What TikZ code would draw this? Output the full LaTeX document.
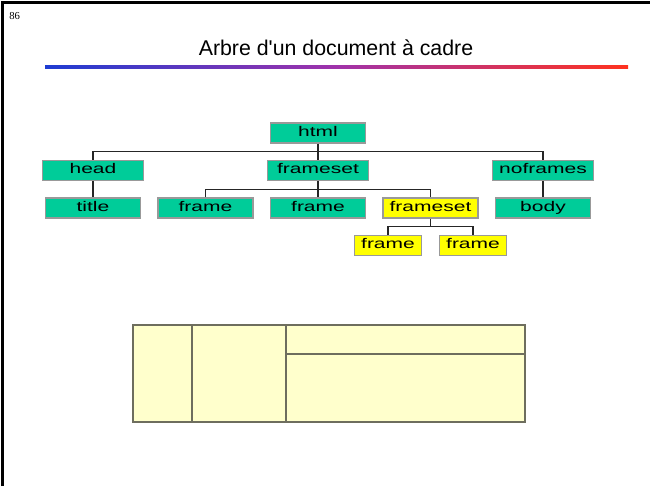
\documentclass[tikz,border=0pt]{standalone}
\usepackage{fontspec}
\setmainfont{Liberation Sans}
\newfontfamily\boxfont[FakeStretch=1.5]{Liberation Sans}
\newfontfamily\headfont[Ligatures=TeXOff]{Liberation Sans}
\newfontfamily\pagefont{Liberation Serif}
\usetikzlibrary{positioning, calc}

\definecolor{treegreen}{HTML}{00CC99}
\definecolor{frameyellow}{HTML}{FFFF00}
\definecolor{boxedge}{HTML}{999999}
\definecolor{pagecream}{HTML}{FFFFCC}
\definecolor{celledge}{HTML}{6E6E5E}
\definecolor{rulestart}{RGB}{30,60,210}
\definecolor{rulemid}{RGB}{160,50,170}
\definecolor{ruleend}{RGB}{255,50,30}

\begin{document}
\begin{tikzpicture}[
    x=0.75pt, y=-0.75pt,
    node distance=28.125pt and 84.375pt,
    on grid,
    tag/.style={draw=boxedge, line width=1.1pt, fill=treegreen, minimum height=15pt, inner sep=0pt, text height=7.4pt, text depth=2.2pt, font=\boxfont\fontsize{10.5}{12}\selectfont},
    wide/.style={tag, minimum width=75.75pt},
    narrow/.style={tag, minimum width=71.25pt},
    small/.style={tag, minimum width=50.25pt},
    yellowtag/.style={fill=frameyellow},
    branch/.style={line width=1.1pt, draw=black!85}
]
   \useasboundingbox (0,0) rectangle (650,486);

   % Page frame, number and heading
   \draw[line width=2.25pt] (2.5,486) -- (2.5,2.5) -- (650,2.5);
   \node[font=\pagefont\fontsize{8}{9}\selectfont, anchor=north west, inner sep=0pt] (pageno) at (9,12) {86};
   \node[font=\headfont\fontsize{16}{19}\selectfont, anchor=base] (heading) at (336,55) {Arbre d'un document à cadre};
   \shade[left color=rulestart, right color=ruleend, middle color=rulemid] (45,65.5) rectangle (628,68.5);

   % Tree nodes
   \node[narrow] (html) at (318,133) {html};
   \node[wide] (fs) [below=of html] {frameset};
   \node[wide] (head) [left=168.75pt of fs] {head};
   \node[wide] (noframes) [right=168.75pt of fs] {noframes};
   \node[narrow] (title) [below=of head] {title};
   \node[narrow] (body) [below=of noframes] {body};
   \node[narrow] (frB) [below=of fs] {frame};
   \node[narrow] (frA) [left=of frB] {frame};
   \node[narrow, yellowtag] (fs2) [right=of frB] {frameset};
   \node[small, yellowtag] (frC) [below left=28.125pt and 31.875pt of fs2] {frame};
   \node[small, yellowtag] (frD) [below right=28.125pt and 31.875pt of fs2] {frame};

   % Branches
   \coordinate (bus1) at ($(html.south)!0.5!(fs.north)$);
   \coordinate (bus2) at ($(fs.south)!0.5!(frB.north)$);
   \coordinate (bus3) at ($(fs2.south)!0.5!(fs2.south |- frC.north)$);
   \draw[branch] (html.south) -- (fs.north);
   \draw[branch] (head.north) |- (bus1) -| (noframes.north);
   \draw[branch] (head) -- (title);
   \draw[branch] (noframes) -- (body);
   \draw[branch] (fs.south) -- (frB.north);
   \draw[branch] (frA.north) |- (bus2) -| (fs2.north);
   \draw[branch] (fs2.south) -- (bus3);
   \draw[branch] (frC.north) |- (bus3) -| (frD.north);

   % Frame layout
   \draw[celledge, fill=pagecream, line width=1.1pt] (133,325) rectangle (525,422);
   \draw[celledge, line width=1.1pt] (192,325) -- (192,422);
   \draw[celledge, line width=1.1pt] (286,325) -- (286,422);
   \draw[celledge, line width=1.1pt] (286,354) -- (525,354);
\end{tikzpicture}
\end{document}
